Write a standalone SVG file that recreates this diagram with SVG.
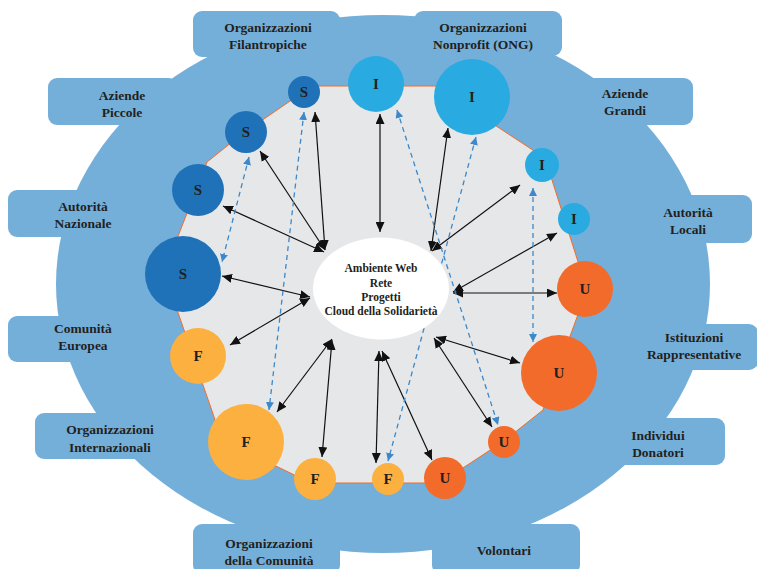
<svg xmlns="http://www.w3.org/2000/svg" width="757" height="569" viewBox="0 0 757 569">
<defs>
<style>
.band{fill:#74AFDA}
.lbl{font-family:"Liberation Serif","DejaVu Serif",serif;font-weight:bold;font-size:13.5px;fill:#231F20;text-anchor:middle}
.ctr{font-family:"Liberation Serif","DejaVu Serif",serif;font-weight:bold;font-size:11.5px;fill:#231F20;text-anchor:middle}
.let{font-family:"Liberation Serif","DejaVu Serif",serif;font-weight:bold;font-size:15px;fill:#231F20;text-anchor:middle}
.s{fill:#1F72B8}
.i{fill:#29ABE2}
.u{fill:#F26B2A}
.f{fill:#FBB040}
.solid{stroke:#111;stroke-width:1.2;fill:none;marker-start:url(#ah);marker-end:url(#ah)}
.dash{stroke:#3C88CA;stroke-width:1.3;fill:none;stroke-dasharray:5 4;marker-start:url(#bh);marker-end:url(#bh)}
</style>
<marker id="ah" markerUnits="userSpaceOnUse" markerWidth="10" markerHeight="9" refX="10" refY="4.5" orient="auto-start-reverse"><path d="M0,0 L10,4.5 L0,9 z" fill="#111"/></marker>
<marker id="bh" markerUnits="userSpaceOnUse" markerWidth="8" markerHeight="8" refX="8" refY="4" orient="auto-start-reverse"><path d="M0,0 L8,4 L0,8 z" fill="#3C88CA"/></marker>
</defs>
<g id="background">
<rect class="band" x="193" y="11" width="147" height="46" rx="9"/>
<rect class="band" x="414" y="11" width="148" height="45" rx="9"/>
<rect class="band" x="560" y="78" width="133" height="47" rx="9"/>
<rect class="band" x="48" y="78" width="130" height="47" rx="9"/>
<rect class="band" x="8" y="190" width="120" height="47" rx="9"/>
<rect class="band" x="8" y="316" width="120" height="46" rx="9"/>
<rect class="band" x="35" y="413" width="140" height="46" rx="9"/>
<rect class="band" x="193" y="524" width="147" height="50" rx="9"/>
<rect class="band" x="432" y="524" width="148" height="50" rx="9"/>
<rect class="band" x="600" y="418" width="125" height="47" rx="9"/>
<rect class="band" x="620" y="324" width="138" height="46" rx="9"/>
<rect class="band" x="620" y="195" width="132" height="48" rx="9"/>
<ellipse class="band" cx="383" cy="284" rx="327" ry="269"/>
<polygon points="207,162 242,134 312,86 435,86 545,158 587,290 543,410 504,441 440,483 311,483 222,440 164,272" fill="#E6E7E8" stroke="#F26B2A" stroke-width="1"/>
</g>
<g id="label-filantropiche"><text class="lbl" x="268" y="31.5">Organizzazioni</text><text class="lbl" x="268" y="48.5">Filantropiche</text></g>
<g id="label-ong"><text class="lbl" x="483" y="31.5">Organizzazioni</text><text class="lbl" x="483" y="48.5">Nonprofit (ONG)</text></g>
<g id="label-aziende-grandi"><text class="lbl" x="625" y="97.5">Aziende</text><text class="lbl" x="625" y="114.5">Grandi</text></g>
<g id="label-aziende-piccole"><text class="lbl" x="122" y="99.5">Aziende</text><text class="lbl" x="122" y="116.5">Piccole</text></g>
<g id="label-autorita-nazionale"><text class="lbl" x="83" y="210.5">Autorità</text><text class="lbl" x="83" y="227.5">Nazionale</text></g>
<g id="label-comunita-europea"><text class="lbl" x="83" y="332.5">Comunità</text><text class="lbl" x="83" y="349.5">Europea</text></g>
<g id="label-internazionali"><text class="lbl" x="110" y="433.5">Organizzazioni</text><text class="lbl" x="110" y="451.5">Internazionali</text></g>
<g id="label-comunita"><text class="lbl" x="269" y="547.5">Organizzazioni</text><text class="lbl" x="269" y="564.5">della Comunità</text></g>
<g id="label-volontari"><text class="lbl" x="504" y="554.5">Volontari</text></g>
<g id="label-individui"><text class="lbl" x="658" y="439.5">Individui</text><text class="lbl" x="658" y="456.5">Donatori</text></g>
<g id="label-istituzioni"><text class="lbl" x="694" y="341.5">Istituzioni</text><text class="lbl" x="694" y="358.5">Rappresentative</text></g>
<g id="label-autorita-locali"><text class="lbl" x="688" y="216.5">Autorità</text><text class="lbl" x="688" y="233.5">Locali</text></g>
<g id="connectors">
<line class="solid" x1="325" y1="250" x2="315" y2="112"/>
<line class="solid" x1="325" y1="250" x2="260" y2="151"/>
<line class="solid" x1="324" y1="252" x2="223" y2="206"/>
<line class="solid" x1="310" y1="297" x2="222" y2="276"/>
<line class="solid" x1="310" y1="298" x2="230" y2="345"/>
<line class="solid" x1="332" y1="339" x2="277" y2="412"/>
<line class="solid" x1="332" y1="340" x2="322" y2="457"/>
<line class="solid" x1="379" y1="351" x2="376" y2="463"/>
<line class="solid" x1="382" y1="351" x2="432" y2="460"/>
<line class="solid" x1="434" y1="338" x2="492" y2="427"/>
<line class="solid" x1="436" y1="337" x2="520" y2="363"/>
<line class="solid" x1="453" y1="293" x2="557" y2="293"/>
<line class="solid" x1="453" y1="292" x2="557" y2="233"/>
<line class="solid" x1="432" y1="251" x2="520" y2="185"/>
<line class="solid" x1="431" y1="251" x2="448" y2="128"/>
<line class="solid" x1="380" y1="232" x2="380" y2="114"/>
<line class="dash" x1="249" y1="157" x2="222" y2="262"/>
<line class="dash" x1="304" y1="112" x2="269" y2="410"/>
<line class="dash" x1="397" y1="110" x2="498" y2="425"/>
<line class="dash" x1="476" y1="137" x2="388" y2="461"/>
<line class="dash" x1="533" y1="188" x2="533" y2="342"/>
</g>
<g id="center"><ellipse cx="381" cy="288.5" rx="68" ry="51" fill="#FFFFFF"/>
<text class="ctr" x="381" y="272">Ambiente Web</text><text class="ctr" x="381" y="287">Rete</text><text class="ctr" x="381" y="301">Progetti</text><text class="ctr" x="381" y="315">Cloud della Solidarietà</text></g>
<g id="s1"><circle class="s" cx="304" cy="92" r="16"/><text class="let" x="304" y="97">S</text></g>
<g id="s2"><circle class="s" cx="246" cy="132" r="21"/><text class="let" x="246" y="137">S</text></g>
<g id="s3"><circle class="s" cx="198" cy="190" r="26"/><text class="let" x="198" y="195">S</text></g>
<g id="s4"><circle class="s" cx="183" cy="274" r="38"/><text class="let" x="183" y="279">S</text></g>
<g id="i1"><circle class="i" cx="376" cy="84" r="28"/><text class="let" x="376" y="89">I</text></g>
<g id="i2"><circle class="i" cx="472" cy="97" r="38"/><text class="let" x="472" y="102">I</text></g>
<g id="i3"><circle class="i" cx="542" cy="165" r="17"/><text class="let" x="542" y="170">I</text></g>
<g id="i4"><circle class="i" cx="574" cy="219" r="16"/><text class="let" x="574" y="224">I</text></g>
<g id="u1"><circle class="u" cx="585" cy="289" r="28"/><text class="let" x="585" y="294">U</text></g>
<g id="u2"><circle class="u" cx="559" cy="373" r="38"/><text class="let" x="559" y="378">U</text></g>
<g id="u3"><circle class="u" cx="504" cy="442" r="16"/><text class="let" x="504" y="447">U</text></g>
<g id="u4"><circle class="u" cx="445" cy="478" r="21"/><text class="let" x="445" y="483">U</text></g>
<g id="f1"><circle class="f" cx="388" cy="479" r="16"/><text class="let" x="388" y="484">F</text></g>
<g id="f2"><circle class="f" cx="315" cy="479" r="21"/><text class="let" x="315" y="484">F</text></g>
<g id="f3"><circle class="f" cx="246" cy="442" r="38"/><text class="let" x="246" y="447">F</text></g>
<g id="f4"><circle class="f" cx="198" cy="356" r="28"/><text class="let" x="198" y="361">F</text></g>
</svg>
